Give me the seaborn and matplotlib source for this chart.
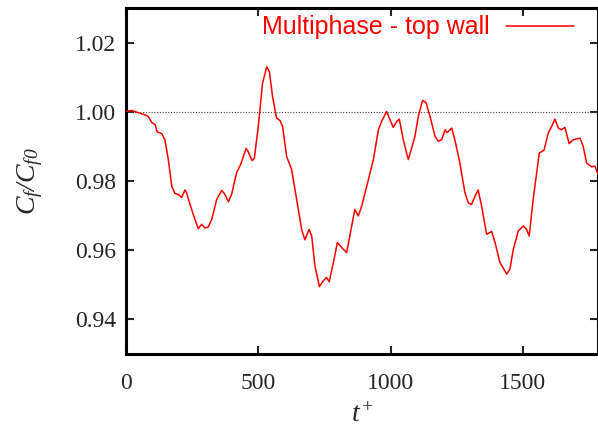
import matplotlib
matplotlib.use("Agg")
import matplotlib.pyplot as plt
import seaborn as sns
import pandas as pd

t_plus = [0, 21, 72, 84, 97, 110, 118, 135, 147, 160, 173, 185, 198, 210, 223, 229,
          242, 254, 273, 286, 299, 311, 324, 343, 362, 374, 387, 399, 418, 433, 454,
          461, 477, 485, 500, 516, 532, 542, 554, 569, 582, 592, 607, 626, 645, 664,
          676, 692, 702, 714, 731, 746, 758, 768, 784, 799, 815, 834, 865, 878, 891,
          910, 935, 954, 966, 985, 998, 1010, 1023, 1033, 1048, 1067, 1080, 1092,
          1105, 1121, 1134, 1149, 1168, 1180, 1193, 1206, 1214, 1231, 1243, 1262,
          1281, 1294, 1306, 1319, 1331, 1344, 1363, 1382, 1395, 1413, 1439, 1451,
          1464, 1483, 1502, 1514, 1524, 1539, 1562, 1580, 1596, 1609, 1621, 1634,
          1646, 1659, 1675, 1690, 1716, 1728, 1741, 1760, 1772, 1784]
cf_ratio = [1.0001, 1.0004, 0.9991, 0.9987, 0.9969, 0.9963, 0.9942, 0.9937, 0.9919,
            0.9862, 0.9785, 0.9764, 0.9761, 0.9752, 0.9774, 0.9766, 0.9732, 0.9704,
            0.9662, 0.9675, 0.9664, 0.9667, 0.9689, 0.9747, 0.9773, 0.9761, 0.9740,
            0.9761, 0.9824, 0.9847, 0.9894, 0.9886, 0.9859, 0.9865, 0.9958, 1.0083,
            1.0130, 1.0116, 1.0044, 0.9982, 0.9975, 0.9958, 0.9871, 0.9833, 0.9747,
            0.9660, 0.9630, 0.9660, 0.9641, 0.9555, 0.9495, 0.9512, 0.9521, 0.9509,
            0.9565, 0.9622, 0.9608, 0.9593, 0.9718, 0.9699, 0.9728, 0.9785, 0.9862,
            0.9948, 0.9972, 1.0001, 0.9977, 0.9955, 0.9972, 0.9979, 0.9919, 0.9862,
            0.9896, 0.9929, 0.9987, 1.0033, 1.0027, 0.9987, 0.9929, 0.9915, 0.9919,
            0.9948, 0.9940, 0.9953, 0.9919, 0.9852, 0.9766, 0.9737, 0.9732, 0.9756,
            0.9774, 0.9728, 0.9646, 0.9654, 0.9622, 0.9565, 0.9531, 0.9545, 0.9603,
            0.9656, 0.9670, 0.9660, 0.9641, 0.9747, 0.9881, 0.9889, 0.9939, 0.9958,
            0.9979, 0.9953, 0.9948, 0.9955, 0.9908, 0.9919, 0.9924, 0.9900, 0.9852,
            0.9841, 0.9843, 0.9819]
series_label = "Multiphase - top wall"
x_ticks = [0, 500, 1000, 1500]
y_ticks = [0.94, 0.96, 0.98, 1.00, 1.02]
y_tick_labels = ["0.94", "0.96", "0.98", "1.00", "1.02"]

sns.set_style("ticks")
plt.rcParams["font.family"] = ["Liberation Serif", "DejaVu Serif"]
plt.rcParams["mathtext.fontset"] = "custom"
plt.rcParams["mathtext.rm"] = "Liberation Serif:italic"
plt.rcParams["mathtext.it"] = "Liberation Serif:italic"

df = pd.DataFrame({"t": t_plus, "cf": cf_ratio, "series": series_label})

fig = plt.figure(figsize=(5.98, 4.34), dpi=100)
ax = fig.add_axes([126 / 598, 1 - 354 / 434, 1 - 126 / 598, (354 - 8) / 434])

ax.axhline(1.0, color="#444444", lw=0.8, ls=(0, (1, 1.5)), zorder=1)
sns.lineplot(data=df, x="t", y="cf", hue="series", palette=["#ff0000"],
             lw=1.1, ax=ax, zorder=3)

ax.set_xlim(0, 1784)
ax.set_ylim(0.93, 1.03)
ax.set_xticks(x_ticks)
ax.set_yticks(y_ticks)
ax.set_yticklabels(y_tick_labels)
ax.tick_params(direction="in", length=6, width=1.5, labelsize=17,
               top=True, right=True)
ax.tick_params(axis="x", pad=14)
ax.tick_params(axis="y", pad=7)
for s in ax.spines.values():
    s.set_linewidth(2.2)
    s.set_color("black")

ax.set_xlabel(r"$t^{+}$", fontsize=20, labelpad=6)
ax.set_ylabel(r"$C_f/C_{f0}$", fontsize=20, labelpad=22)

leg = ax.legend(loc="upper right", frameon=False, markerfirst=False,
                handlelength=2.7, handletextpad=0.65, borderaxespad=0.2,
                prop={"family": "Liberation Sans", "size": 18},
                labelcolor="#ff0000", bbox_to_anchor=(0.980, 1.022))

fig.savefig("out.png", dpi=100)
